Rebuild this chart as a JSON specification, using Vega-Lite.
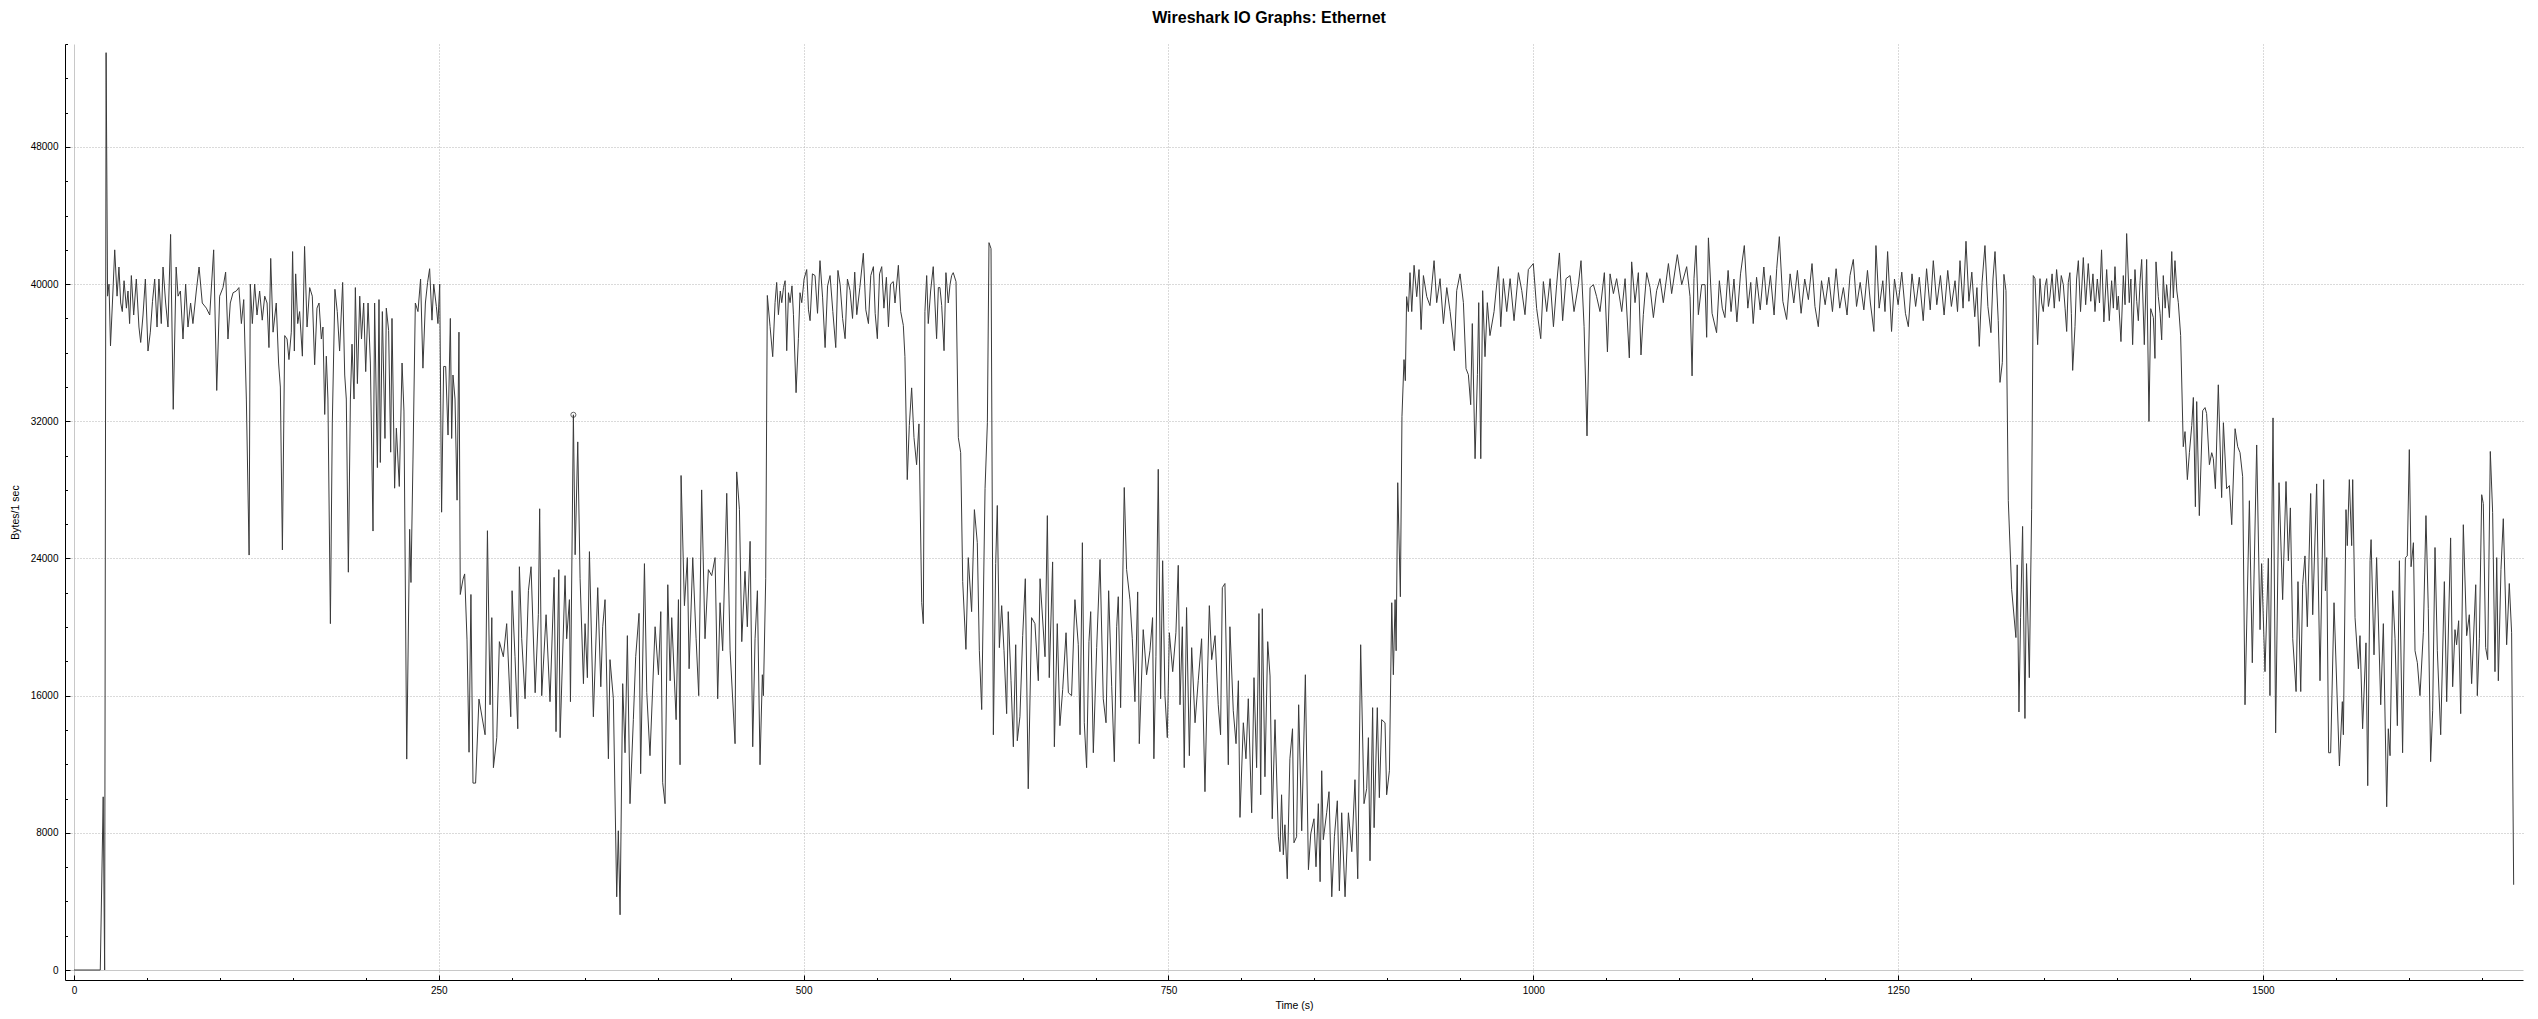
{
"$schema": "https://vega.github.io/schema/vega-lite/v6.json",
"width": 2458, "height": 936,
"autosize": {"type": "none"},
"padding": {"left": 65, "top": 44, "right": 15, "bottom": 39},
"background": "white",
"title": {"text": "Wireshark IO Graphs: Ethernet", "font": "Liberation Sans", "fontSize": 16, "fontWeight": "bold", "color": "#000000", "anchor": "middle", "frame": "group", "dx": -25, "offset": 18},
"config": {"view": {"stroke": null}, "axis": {"labelFont": "Liberation Sans", "titleFont": "Liberation Sans", "labelColor": "#000000", "titleColor": "#000000", "titleFontWeight": "normal", "domainColor": "#000000", "tickColor": "#000000", "labelFontSize": 10, "titleFontSize": 10.5, "tickWidth": 1, "domainWidth": 1}},
"datasets": {
"tracer": [{"t": 342.2, "v": 32380}],
"io": [
{"t":0,"v":0},{"t":18,"v":0},{"t":20,"v":10100},{"t":21,"v":0},{"t":22,"v":53500},{"t":23,"v":39300},{"t":24,"v":40000},{"t":25,"v":36400},{"t":26.7,"v":39600},{"t":27.9,"v":42000},{"t":29.5,"v":39300},{"t":30.8,"v":41000},{"t":32,"v":38900},{"t":33.1,"v":38400},{"t":34.3,"v":40200},{"t":35.9,"v":38600},{"t":37,"v":39600},{"t":38.1,"v":37700},{"t":39.3,"v":40500},{"t":40.9,"v":38200},{"t":42.7,"v":40300},{"t":44.5,"v":37500},{"t":45.7,"v":36600},{"t":47.3,"v":38200},{"t":48.9,"v":40300},{"t":50.7,"v":36100},{"t":52.3,"v":37200},{"t":53.8,"v":39000},{"t":55.3,"v":40300},{"t":56.9,"v":37500},{"t":58.2,"v":40300},{"t":59.8,"v":37700},{"t":61,"v":41000},{"t":62.8,"v":38900},{"t":64.4,"v":37500},{"t":66.2,"v":42900},{"t":68,"v":32700},{"t":70,"v":41000},{"t":71.3,"v":39300},{"t":72.9,"v":39600},{"t":74.7,"v":36800},{"t":76.5,"v":40000},{"t":78.1,"v":37500},{"t":79.9,"v":38900},{"t":81.5,"v":37700},{"t":83.8,"v":39600},{"t":85.7,"v":41000},{"t":87.9,"v":38900},{"t":90.7,"v":38600},{"t":93,"v":38200},{"t":95.7,"v":42000},{"t":97.8,"v":33800},{"t":99.8,"v":39300},{"t":102.1,"v":39800},{"t":103.9,"v":40700},{"t":105.5,"v":36800},{"t":107.1,"v":38900},{"t":109,"v":39500},{"t":111.2,"v":39600},{"t":113,"v":39800},{"t":114.7,"v":37700},{"t":116.3,"v":39100},{"t":118.1,"v":33300},{"t":120,"v":24200},{"t":120.8,"v":40000},{"t":122.2,"v":37700},{"t":123.8,"v":40000},{"t":125.4,"v":38200},{"t":127.2,"v":39600},{"t":129,"v":37900},{"t":130.7,"v":39300},{"t":132.3,"v":38900},{"t":133.6,"v":36300},{"t":134.8,"v":41500},{"t":136.4,"v":37200},{"t":138.6,"v":38900},{"t":140.2,"v":35400},{"t":141.4,"v":34000},{"t":142.8,"v":24500},{"t":144.4,"v":37000},{"t":146,"v":36800},{"t":147.3,"v":35600},{"t":148.9,"v":37200},{"t":149.8,"v":41900},{"t":151,"v":36100},{"t":151.9,"v":40600},{"t":153.3,"v":37700},{"t":154.6,"v":38400},{"t":156.5,"v":35800},{"t":158,"v":42200},{"t":159.7,"v":37500},{"t":161.5,"v":39800},{"t":163.3,"v":39300},{"t":164.9,"v":35300},{"t":166.5,"v":38600},{"t":167.9,"v":38900},{"t":169.5,"v":36800},{"t":170.6,"v":37500},{"t":171.8,"v":32400},{"t":172.9,"v":35800},{"t":174,"v":33300},{"t":175.7,"v":20200},{"t":177,"v":31900},{"t":178.8,"v":39700},{"t":180.4,"v":38400},{"t":182,"v":36100},{"t":184.1,"v":40100},{"t":185.5,"v":34700},{"t":186.6,"v":33300},{"t":188,"v":23200},{"t":189.4,"v":33300},{"t":190.5,"v":36500},{"t":191.9,"v":33300},{"t":192.8,"v":39800},{"t":194.2,"v":34200},{"t":195.8,"v":39300},{"t":197,"v":36800},{"t":198.5,"v":38900},{"t":199.9,"v":34900},{"t":201.5,"v":38900},{"t":203.1,"v":35400},{"t":204.9,"v":25600},{"t":206,"v":38900},{"t":207.9,"v":29300},{"t":209,"v":39100},{"t":209.9,"v":29600},{"t":211.3,"v":38400},{"t":213.1,"v":31000},{"t":214,"v":38600},{"t":215.6,"v":37300},{"t":217,"v":30200},{"t":217.9,"v":38000},{"t":219.7,"v":28100},{"t":220.9,"v":31600},{"t":222.9,"v":28200},{"t":224.8,"v":35400},{"t":226.1,"v":32600},{"t":228,"v":12300},{"t":230,"v":25700},{"t":230.9,"v":22600},{"t":232.3,"v":29800},{"t":233.9,"v":38900},{"t":235.7,"v":38400},{"t":237.5,"v":40300},{"t":239.1,"v":35100},{"t":240.8,"v":38900},{"t":242.3,"v":40100},{"t":243.7,"v":40900},{"t":245.3,"v":37900},{"t":246.5,"v":40000},{"t":248.3,"v":38700},{"t":249.4,"v":37700},{"t":250.6,"v":40000},{"t":251.9,"v":26700},{"t":253.3,"v":35200},{"t":254.7,"v":35200},{"t":256.3,"v":31200},{"t":257.9,"v":38000},{"t":258.8,"v":31000},{"t":259.7,"v":34700},{"t":261.1,"v":33300},{"t":262.5,"v":27400},{"t":263.8,"v":37200},{"t":264.7,"v":21900},{"t":266.6,"v":22800},{"t":267.7,"v":23100},{"t":269.3,"v":19300},{"t":270.7,"v":12700},{"t":272,"v":21900},{"t":273.4,"v":10900},{"t":275.2,"v":10900},{"t":277.5,"v":15800},
{"t":281.7,"v":13720},{"t":283.3,"v":25620},{"t":285.1,"v":15470},{"t":286.3,"v":20550},{"t":287.4,"v":11800},{"t":289.7,"v":13550},{"t":291.5,"v":19150},{"t":294.2,"v":18270},{"t":296.5,"v":20200},{"t":299.3,"v":14770},{"t":300.2,"v":22120},{"t":302.2,"v":18270},{"t":304.1,"v":14070},{"t":305.2,"v":23520},{"t":306.8,"v":19320},{"t":309.1,"v":15820},{"t":311.4,"v":22120},{"t":313.2,"v":23520},{"t":316,"v":16170},{"t":318.2,"v":20720},{"t":319.1,"v":26900},{"t":320.5,"v":16000},{"t":323.5,"v":20720},{"t":326.2,"v":15650},{"t":329,"v":22900},{"t":330.3,"v":13900},{"t":332.2,"v":23350},{"t":333.1,"v":13550},{"t":336.5,"v":23000},{"t":337.6,"v":19320},{"t":339.5,"v":21600},{"t":340.2,"v":15650},{"t":342.2,"v":32380},{"t":343.4,"v":24220},{"t":345.2,"v":30800},{"t":346.8,"v":22820},{"t":349.1,"v":16700},{"t":350.2,"v":20200},{"t":351.8,"v":17050},{"t":353.2,"v":24400},{"t":355.9,"v":14770},{"t":358.9,"v":22300},{"t":361,"v":16520},{"t":362.3,"v":20020},{"t":363.9,"v":21600},{"t":366.2,"v":12320},{"t":367.3,"v":18100},{"t":369.6,"v":15820},{"t":371.9,"v":4270},{"t":373,"v":8120},{"t":374.2,"v":3220},{"t":376,"v":16700},{"t":377.6,"v":12670},{"t":379.2,"v":19500},{"t":381,"v":9700},{"t":383.3,"v":14600},{"t":384.9,"v":18270},{"t":387.2,"v":20800},{"t":388.3,"v":11450},{"t":390.9,"v":23700},{"t":392.5,"v":16170},{"t":394.7,"v":12500},{"t":398.2,"v":20020},{"t":400.5,"v":17220},{"t":402.1,"v":20900},{"t":403.4,"v":10920},{"t":405,"v":9700},{"t":406.9,"v":22470},{"t":408.5,"v":16870},{"t":409.6,"v":20550},{"t":412.6,"v":14600},{"t":414.2,"v":21600},{"t":415.3,"v":11970},{"t":416,"v":28840},{"t":418.3,"v":21250},{"t":420.3,"v":24050},{"t":421.5,"v":17570},{"t":424,"v":24050},{"t":426.3,"v":19320},{"t":428.1,"v":16000},{"t":430.1,"v":28000},{"t":432.4,"v":19320},{"t":434.7,"v":23350},{"t":437,"v":23000},{"t":439.3,"v":24050},{"t":441.1,"v":15820},{"t":442.7,"v":21420},{"t":444.5,"v":18620},{"t":447.3,"v":27800},{"t":449.6,"v":18620},{"t":453,"v":13200},{"t":454.1,"v":29050},{"t":456,"v":26850},{"t":457.6,"v":19150},{"t":459.8,"v":23250},{"t":461.4,"v":20020},{"t":463.3,"v":25000},{"t":465.1,"v":13020},{"t":466.7,"v":19320},{"t":468.3,"v":22120},{"t":470.1,"v":11970},{"t":471.7,"v":17220},{"t":472.4,"v":16000},{"t":474,"v":22820},
{"t":475.1,"v":39340},{"t":477,"v":37520},{"t":478.8,"v":35770},{"t":480.4,"v":38920},{"t":481.5,"v":40100},{"t":482.7,"v":38220},{"t":484,"v":39600},{"t":485,"v":38920},{"t":486.2,"v":39800},{"t":487.3,"v":40200},{"t":488.4,"v":36120},{"t":489.6,"v":39500},{"t":490.7,"v":38920},{"t":492,"v":39900},{"t":493,"v":38220},{"t":494.8,"v":33670},{"t":496.4,"v":36820},{"t":497.5,"v":39500},{"t":498.7,"v":38920},{"t":500.3,"v":40300},{"t":502.1,"v":40850},{"t":503.3,"v":38500},{"t":504.4,"v":37870},{"t":506,"v":40600},{"t":507.8,"v":40500},{"t":509.5,"v":38300},{"t":511.2,"v":41370},{"t":513,"v":39200},{"t":514.7,"v":36300},{"t":516.4,"v":39900},{"t":518.1,"v":40500},{"t":520,"v":38400},{"t":522,"v":36300},{"t":523.5,"v":40800},{"t":525,"v":39970},{"t":526.7,"v":38000},{"t":528.4,"v":36820},{"t":530,"v":40300},{"t":531.8,"v":39620},{"t":533.5,"v":38000},{"t":535,"v":40700},{"t":536.4,"v":38220},{"t":538.5,"v":39800},{"t":540.9,"v":41800},{"t":542.6,"v":38500},{"t":544.4,"v":37700},{"t":546,"v":40500},{"t":547.8,"v":41020},{"t":549,"v":38300},{"t":550.5,"v":36820},{"t":552,"v":40600},{"t":553.5,"v":41020},{"t":555,"v":38600},{"t":556.7,"v":40400},{"t":558.1,"v":37520},{"t":559.5,"v":40000},{"t":561.4,"v":40150},{"t":562.6,"v":38900},{"t":564.9,"v":41100},{"t":566.5,"v":38400},{"t":568.3,"v":37600},{"t":569.4,"v":35770},
{"t":571,"v":28600},{"t":572.4,"v":31750},{"t":574,"v":33950},{"t":575.6,"v":31050},{"t":577.4,"v":29470},{"t":579,"v":31850},{"t":580.9,"v":21420},{"t":582,"v":20200},{"t":583.1,"v":38400},{"t":584.3,"v":40500},{"t":585.4,"v":37700},{"t":587,"v":39600},{"t":588.8,"v":41020},{"t":591.1,"v":36820},{"t":592.3,"v":39800},{"t":593.4,"v":39800},{"t":594.6,"v":38750},{"t":596.2,"v":36120},{"t":597.5,"v":40670},{"t":599.1,"v":38900},{"t":600.3,"v":39970},{"t":601.4,"v":40500},{"t":602.5,"v":40670},{"t":604.4,"v":40150},{"t":606,"v":31050},{"t":607.6,"v":30170},{"t":609,"v":22650},{"t":611.2,"v":18700},{"t":612.8,"v":24050},{"t":615.1,"v":20900},{"t":617,"v":26850},{"t":619,"v":24920},{"t":620.4,"v":18620},{"t":622,"v":15190},{"t":624.3,"v":28070},{"t":625.9,"v":31920},{"t":627,"v":42420},{"t":628.4,"v":42070},{"t":630,"v":13720},{"t":631.6,"v":23700},{"t":632.7,"v":27090},{"t":634.1,"v":18800},{"t":635.7,"v":21250},{"t":637.3,"v":18620},{"t":639.1,"v":14950},{"t":640.2,"v":20900},{"t":642.1,"v":16870},{"t":643.7,"v":13020},{"t":645.3,"v":18970},{"t":646.4,"v":13370},{"t":648.2,"v":14770},{"t":650.1,"v":19500},{"t":651.9,"v":22820},{"t":653.9,"v":10570},{"t":656.2,"v":20550},{"t":658.5,"v":20200},{"t":660.8,"v":16870},{"t":662,"v":22820},{"t":665.4,"v":18270},{"t":667,"v":26500},{"t":668.3,"v":17050},{"t":670.6,"v":23800},{"t":671.8,"v":13020},{"t":673.8,"v":20200},{"t":675.6,"v":14250},{"t":677.5,"v":16350},{"t":679.8,"v":19670},{"t":681.4,"v":16170},{"t":683.6,"v":16000},{"t":685.9,"v":21600},{"t":688.2,"v":18970},{"t":689.4,"v":13720},{"t":691,"v":24920},{"t":692.3,"v":14420},{"t":693.9,"v":11800},{"t":695.5,"v":19150},{"t":696.7,"v":20900},{"t":698.5,"v":12670},{"t":700.8,"v":18800},{"t":703.1,"v":23940},{"t":705.3,"v":15820},{"t":707.2,"v":14420},{"t":709,"v":22120},{"t":711.1,"v":16520},{"t":712.9,"v":12150},{"t":714.5,"v":20020},{"t":715.6,"v":21770},{"t":717.2,"v":15300},{"t":719.7,"v":28140},{"t":721.3,"v":23350},{"t":723.6,"v":21600},{"t":725.2,"v":19320},{"t":727,"v":15650},{"t":728.9,"v":22050},{"t":730,"v":13200},{"t":732.7,"v":19850},{"t":735,"v":17220},{"t":737.3,"v":18620},{"t":739.1,"v":20550},{"t":740,"v":12320},{"t":741.4,"v":18270},{"t":743,"v":29200},{"t":744.6,"v":15820},{"t":746,"v":23870},{"t":747.6,"v":16000},{"t":749.2,"v":13550},{"t":750.6,"v":19670},{"t":752.9,"v":17400},{"t":755.1,"v":19670},{"t":756.7,"v":23600},{"t":757.9,"v":15470},{"t":759.5,"v":20020},{"t":760.8,"v":11800},{"t":762.4,"v":21140},{"t":764.3,"v":12500},{"t":765.9,"v":18800},{"t":768.2,"v":14420},{"t":770.4,"v":16870},{"t":772.7,"v":19320},{"t":775,"v":10400},{"t":776.6,"v":16700},{"t":778,"v":21250},{"t":779.6,"v":18100},{"t":781.9,"v":19500},{"t":784.1,"v":15470},{"t":785.7,"v":13720},{"t":786.9,"v":22300},{"t":788.7,"v":22540},{"t":791,"v":11970},{"t":792.1,"v":20020},{"t":794.4,"v":15120},{"t":796.3,"v":13200},{"t":797.9,"v":16870},{"t":799,"v":8900},{"t":801.3,"v":14420},{"t":803.1,"v":12320},{"t":804.7,"v":15820},{"t":807,"v":9170},{"t":808.6,"v":17050},{"t":810.4,"v":11800},{"t":812,"v":20790},{"t":813.2,"v":10220},{"t":814.3,"v":21070},{"t":816.1,"v":11270},{"t":818,"v":19150},{"t":819.6,"v":17150},{"t":821.1,"v":8820},{"t":823,"v":14600},{"t":825.3,"v":7770},{"t":826.4,"v":6900},{"t":827.5,"v":10220},{"t":828.7,"v":6720},{"t":829.8,"v":8470},{"t":831.4,"v":5320},{"t":833.2,"v":12320},{"t":835,"v":14070},{"t":836,"v":7420},{"t":837.8,"v":7770},{"t":839.2,"v":15470},
{"t":841.3,"v":8120},{"t":843.8,"v":17220},{"t":845.9,"v":5850},{"t":847.5,"v":7950},{"t":849.7,"v":8820},{"t":851.1,"v":6020},{"t":852.7,"v":9700},{"t":853.9,"v":5150},{"t":855,"v":11620},{"t":856.1,"v":7600},{"t":858.4,"v":9170},{"t":860,"v":10400},{"t":861.9,"v":4270},{"t":863.7,"v":7770},{"t":865.7,"v":9870},{"t":867.1,"v":4620},{"t":868.7,"v":9170},{"t":871,"v":4270},{"t":873.3,"v":9170},{"t":875.6,"v":6900},{"t":877.8,"v":11100},{"t":879.7,"v":5320},{"t":881.7,"v":18970},{"t":884,"v":9700},{"t":885.8,"v":10570},{"t":887,"v":13550},{"t":888.1,"v":6370},{"t":889.9,"v":15300},{"t":890.9,"v":8300},{"t":893.1,"v":15300},{"t":894.5,"v":10050},{"t":896.1,"v":14600},{"t":898.4,"v":14420},{"t":899.5,"v":10220},{"t":901.4,"v":11620},{"t":903,"v":21420},{"t":904.1,"v":17220},{"t":905.3,"v":21600},{"t":906,"v":18620},{"t":907.1,"v":28420},{"t":908.9,"v":21770},{"t":910,"v":32270},{"t":911.4,"v":35600},{"t":912.3,"v":34370},{"t":913.2,"v":39270},{"t":914.4,"v":38400},{"t":915.5,"v":40670},{"t":916.7,"v":38400},{"t":918.3,"v":41100},{"t":920.1,"v":39270},{"t":921.7,"v":40850},{"t":923.1,"v":37350},{"t":924.7,"v":40500},{"t":927,"v":39270},{"t":929.2,"v":38750},{"t":932,"v":41370},{"t":933.8,"v":38920},{"t":936.1,"v":40320},{"t":938.4,"v":37700},{"t":940.7,"v":39800},{"t":943,"v":38400},{"t":945.9,"v":36120},{"t":947.5,"v":39620},{"t":949.8,"v":40600},{"t":952.1,"v":38920},{"t":953.9,"v":35070},{"t":955.5,"v":34720},{"t":957.1,"v":32970},{"t":958.2,"v":37700},{"t":960.1,"v":29820},{"t":961.7,"v":34720},{"t":962.6,"v":38920},{"t":964,"v":29820},{"t":965.3,"v":39620},{"t":966.9,"v":35770},{"t":968.5,"v":38920},{"t":970.3,"v":37000},{"t":973.1,"v":38400},{"t":976.1,"v":41020},{"t":977.7,"v":37520},{"t":979.5,"v":40320},{"t":981.8,"v":38400},{"t":984.1,"v":40320},{"t":986.8,"v":37870},{"t":989.8,"v":40670},{"t":992.1,"v":39620},{"t":994.3,"v":38220},{"t":996.6,"v":40850},{"t":1000,"v":41200},{"t":1002.3,"v":38570},{"t":1005.1,"v":36820},{"t":1006.9,"v":40150},{"t":1009.2,"v":38400},{"t":1011.5,"v":40320},{"t":1013.8,"v":37520},{"t":1016,"v":39970},{"t":1017.9,"v":41820},{"t":1020.1,"v":37870},{"t":1022.4,"v":40320},{"t":1025.2,"v":40500},{"t":1027.9,"v":38400},{"t":1030.9,"v":39970},{"t":1032.7,"v":41370},{"t":1034.8,"v":37520},{"t":1036.8,"v":31150},{"t":1038.9,"v":39800},{"t":1041.2,"v":39970},{"t":1043.4,"v":39270},{"t":1045.7,"v":38400},{"t":1048.7,"v":40670},{"t":1050.8,"v":36050},{"t":1052.6,"v":40600},{"t":1054.9,"v":39450},{"t":1057.1,"v":40320},{"t":1060.6,"v":38400},{"t":1062.9,"v":40320},{"t":1065.8,"v":35700},{"t":1067.4,"v":41300},{"t":1069.7,"v":38920},{"t":1072,"v":40670},{"t":1073.8,"v":35870},{"t":1075.4,"v":38220},{"t":1077.7,"v":40670},{"t":1080,"v":39800},{"t":1082.3,"v":38050},{"t":1084.5,"v":39620},{"t":1086.8,"v":40320},{"t":1089.1,"v":38920},{"t":1092.6,"v":41200},{"t":1094.8,"v":39450},{"t":1098.7,"v":41720},{"t":1101.7,"v":39970},{"t":1105.1,"v":41020},{"t":1107.4,"v":39270},{"t":1108.8,"v":34650},{"t":1110.1,"v":40320},{"t":1111.5,"v":42250},{"t":1113.1,"v":38220},{"t":1115.4,"v":39970},{"t":1117.7,"v":39970},{"t":1118.8,"v":36900},{"t":1120,"v":42700},
{"t":1122.5,"v":38300},{"t":1125.6,"v":37170},{"t":1127.5,"v":40200},{"t":1129.5,"v":38600},{"t":1131.3,"v":38050},{"t":1133.5,"v":40800},{"t":1135.5,"v":38400},{"t":1137.5,"v":40300},{"t":1139.5,"v":37800},{"t":1142,"v":40600},{"t":1144.6,"v":42250},{"t":1147,"v":38600},{"t":1149,"v":40100},{"t":1150.7,"v":37700},{"t":1153,"v":40400},{"t":1155.5,"v":38500},{"t":1158,"v":41000},{"t":1160,"v":38800},{"t":1162.5,"v":40500},{"t":1165,"v":38200},{"t":1166.8,"v":40900},{"t":1168.6,"v":42770},{"t":1171,"v":39000},{"t":1173.6,"v":37940},{"t":1176,"v":40600},{"t":1178.5,"v":38900},{"t":1181,"v":40800},{"t":1183.5,"v":38300},{"t":1186,"v":40300},{"t":1188.5,"v":39100},{"t":1191,"v":41200},{"t":1193,"v":38700},{"t":1195.3,"v":37520},{"t":1197.5,"v":40200},{"t":1200,"v":38800},{"t":1202.5,"v":40400},{"t":1205,"v":38400},{"t":1207.5,"v":40900},{"t":1210,"v":38600},{"t":1212.5,"v":39800},{"t":1215,"v":38200},{"t":1217,"v":40500},{"t":1219.3,"v":41440},{"t":1221.5,"v":38700},{"t":1224,"v":40100},{"t":1226.5,"v":38500},{"t":1229,"v":40800},{"t":1231,"v":38900},{"t":1233.4,"v":37240},{"t":1234.8,"v":42250},{"t":1237,"v":38600},{"t":1239.5,"v":40200},{"t":1241,"v":38400},{"t":1242.8,"v":41900},{"t":1245.5,"v":37240},{"t":1247.5,"v":40300},{"t":1250,"v":38800},{"t":1252.5,"v":40700},{"t":1255,"v":38300},{"t":1257,"v":37520},{"t":1259.5,"v":40600},{"t":1262,"v":38700},{"t":1264.5,"v":40400},{"t":1267.2,"v":37870},{"t":1269.5,"v":40900},{"t":1272,"v":38500},{"t":1274.1,"v":41370},{"t":1276.5,"v":38800},{"t":1279,"v":40500},{"t":1281.5,"v":38200},{"t":1284,"v":40800},{"t":1286.5,"v":38700},{"t":1289,"v":40200},{"t":1290.7,"v":38400},{"t":1292.4,"v":41370},{"t":1294.5,"v":38600},{"t":1296.5,"v":42500},{"t":1298.5,"v":39000},{"t":1300.5,"v":40700},{"t":1302.5,"v":38100},{"t":1304,"v":39800},{"t":1305.6,"v":36370},{"t":1307.5,"v":40100},{"t":1309.5,"v":42250},{"t":1311.5,"v":38700},{"t":1313.6,"v":37170},{"t":1315,"v":40300},{"t":1316.4,"v":41900},{"t":1318.6,"v":37870},{"t":1319.8,"v":34270},{"t":1321.4,"v":35420},{"t":1322.5,"v":40570},{"t":1323.9,"v":39620},{"t":1325.5,"v":27370},{"t":1327.8,"v":22190},{"t":1330.7,"v":19390},{"t":1331.6,"v":23630},{"t":1332.8,"v":15050},{"t":1333.9,"v":20550},{"t":1335.3,"v":25870},{"t":1336.9,"v":14670},{"t":1338,"v":23700},{"t":1339.9,"v":17050},{"t":1341.5,"v":26850},
{"t":1342.6,"v":40500},{"t":1343.8,"v":40320},{"t":1345.6,"v":36470},{"t":1347.2,"v":40320},{"t":1348.4,"v":38900},{"t":1349.5,"v":38400},{"t":1350.7,"v":39900},{"t":1351.8,"v":40320},{"t":1353,"v":38700},{"t":1354,"v":39250},{"t":1355.5,"v":40600},{"t":1357,"v":38600},{"t":1358.6,"v":40850},{"t":1360.5,"v":39000},{"t":1361.8,"v":40500},{"t":1363.2,"v":39970},{"t":1364.4,"v":38600},{"t":1365.5,"v":37240},{"t":1366.6,"v":40100},{"t":1367.7,"v":40670},{"t":1368.7,"v":38300},{"t":1369.6,"v":34970},{"t":1371.2,"v":37520},{"t":1372.3,"v":40300},{"t":1373.5,"v":41370},{"t":1375,"v":38400},{"t":1376.9,"v":41550},{"t":1378.5,"v":38800},{"t":1380.3,"v":41200},{"t":1382,"v":39000},{"t":1383.5,"v":40600},{"t":1384.9,"v":38400},{"t":1386.5,"v":40300},{"t":1388,"v":38900},{"t":1389.4,"v":42000},{"t":1391,"v":37800},{"t":1392.9,"v":40850},{"t":1394.7,"v":37870},{"t":1396.3,"v":40200},{"t":1397.5,"v":38600},{"t":1398.6,"v":41020},{"t":1400,"v":38500},{"t":1400.9,"v":39300},{"t":1402.7,"v":36650},{"t":1404.3,"v":40500},{"t":1405.5,"v":38800},{"t":1406.6,"v":42950},{"t":1408.4,"v":38920},{"t":1409.5,"v":40300},{"t":1410.7,"v":36470},{"t":1412.3,"v":40850},{"t":1413.5,"v":39000},{"t":1414.6,"v":37870},{"t":1415.8,"v":40200},{"t":1416.9,"v":41440},{"t":1418.7,"v":36470},{"t":1420.3,"v":41440},{"t":1421.9,"v":31990},{"t":1423.1,"v":38570},{"t":1424.9,"v":38050},{"t":1426,"v":35670},{"t":1426.7,"v":41300},{"t":1428.3,"v":39270},{"t":1429.5,"v":38300},{"t":1430.6,"v":36750},{"t":1431.7,"v":40500},{"t":1433,"v":38600},{"t":1434,"v":39970},{"t":1435.9,"v":38050},{"t":1437.5,"v":41900},{"t":1438.6,"v":39200},{"t":1439.7,"v":41370},{"t":1441,"v":39600},{"t":1442,"v":38920},{"t":1443.6,"v":37000},{"t":1445.4,"v":30520},
{"t":1446.6,"v":31400},{"t":1448.2,"v":28600},{"t":1449.6,"v":30170},{"t":1451.2,"v":31750},{"t":1452.3,"v":33390},{"t":1453.7,"v":27020},{"t":1454.6,"v":33150},{"t":1456.4,"v":26500},{"t":1458.7,"v":32620},{"t":1460.3,"v":32800},{"t":1461.4,"v":32450},{"t":1463.3,"v":29470},{"t":1464.9,"v":30170},{"t":1466,"v":29820},{"t":1467.4,"v":28070},{"t":1469.4,"v":34130},{"t":1471.7,"v":27550},{"t":1472.9,"v":31920},{"t":1475.1,"v":28070},{"t":1477,"v":28250},{"t":1478.6,"v":25970},{"t":1480.9,"v":31570},{"t":1482.7,"v":30520},{"t":1484.3,"v":30170},{"t":1486.1,"v":28770},{"t":1487.7,"v":15470},{"t":1490.7,"v":27370},{"t":1492.7,"v":17920},{"t":1495.7,"v":30620},{"t":1498,"v":19850},{"t":1499.1,"v":23700},{"t":1501.4,"v":17400},{"t":1503.7,"v":24010},{"t":1504.8,"v":16000},{"t":1506.9,"v":32200},{"t":1508.7,"v":13830},{"t":1511,"v":28420},{"t":1513.5,"v":21600},{"t":1515.8,"v":28490},{"t":1517.4,"v":23870},{"t":1518.8,"v":26950},{"t":1520.4,"v":19320},{"t":1522.7,"v":16240},{"t":1524,"v":22650},{"t":1525.9,"v":16240},{"t":1527.2,"v":22470},{"t":1528.8,"v":24150},{"t":1530.4,"v":20020},{"t":1532.7,"v":27790},{"t":1534.1,"v":20720},{"t":1536.8,"v":28350},{"t":1539.1,"v":16870},{"t":1541.6,"v":28600},{"t":1542.8,"v":22120},{"t":1543.7,"v":24050},{"t":1545,"v":12670},{"t":1546.4,"v":12670},{"t":1548.7,"v":21420},{"t":1552.4,"v":11900},{"t":1554.4,"v":15650},{"t":1555.1,"v":13720},{"t":1556.9,"v":26850},{"t":1557.8,"v":24750},{"t":1559.2,"v":28600},{"t":1560.8,"v":24750},{"t":1561.5,"v":28600},{"t":1563.1,"v":20550},{"t":1565.4,"v":17570},{"t":1566.5,"v":19500},{"t":1568.3,"v":14070},{"t":1570.6,"v":19080},{"t":1571.8,"v":10750},{"t":1573.4,"v":23870},{"t":1574.1,"v":25100},{"t":1576.1,"v":18380},{"t":1577.9,"v":24050},{"t":1580.7,"v":15470},{"t":1582.5,"v":20200},{"t":1584.8,"v":9520},{"t":1585.9,"v":14070},{"t":1587.1,"v":12500},{"t":1588.9,"v":22120},{"t":1590.5,"v":19320},{"t":1592.1,"v":14250},{"t":1593.5,"v":23870},{"t":1595.7,"v":12670},{"t":1597.6,"v":24050},{"t":1598.9,"v":24150},{"t":1600.3,"v":30350},{"t":1601.5,"v":23520},{"t":1603.1,"v":24920},{"t":1604.2,"v":18620},{"t":1605.8,"v":17920},{"t":1607.6,"v":16000},{"t":1609.9,"v":19670},{"t":1611.7,"v":26500},{"t":1613.3,"v":21070},{"t":1614.9,"v":12150},{"t":1616.3,"v":15120},{"t":1617.9,"v":24640},{"t":1619.5,"v":18620},{"t":1621.8,"v":13720},{"t":1624.3,"v":22650},{"t":1625.9,"v":15650},{"t":1628.6,"v":25200},{"t":1630,"v":16520},{"t":1631.6,"v":19850},{"t":1632.7,"v":18970},{"t":1634.1,"v":20370},{"t":1635.5,"v":14950},{"t":1637.3,"v":25970},{"t":1639.6,"v":19500},{"t":1641.4,"v":20720},{"t":1643,"v":16700},{"t":1645.8,"v":22470},{"t":1646.9,"v":16000},{"t":1648.3,"v":19320},{"t":1649.9,"v":27720},{"t":1651,"v":27200},{"t":1652.6,"v":18800},{"t":1654,"v":18100},{"t":1655.8,"v":30240},{"t":1657.4,"v":26670},{"t":1659,"v":17400},{"t":1660.2,"v":24050},{"t":1661.3,"v":16870},{"t":1663.1,"v":23350},{"t":1664.7,"v":26320},{"t":1667,"v":18970},{"t":1668.8,"v":22540},{"t":1670.4,"v":19670},{"t":1671.8,"v":4970}
]
},
"layer": [
{"data": {"name": "io"},
 "mark": {"type": "line", "color": "#3a3a3a", "strokeWidth": 1, "clip": true},
 "encoding": {
  "x": {"field": "t", "type": "quantitative", "scale": {"domain": [-6.17, 1678.2], "nice": false, "zero": false},
        "axis": {"values": [0,250,500,750,1000,1250,1500], "format": "d", "title": "Time (s)", "tickSize": -5, "labelPadding": 10, "titlePadding": 5, "labelFlush": false, "grid": true,
                 "gridColor": {"condition": {"test": "datum.value === 0", "value": "#c8c8c8"}, "value": "#b4b4b4"},
                 "gridDash": {"condition": {"test": "datum.value === 0", "value": []}, "value": [1,2]}}},
  "y": {"field": "v", "type": "quantitative", "scale": {"domain": [-583, 54006], "nice": false, "zero": false},
        "axis": {"values": [0,8000,16000,24000,32000,40000,48000], "title": "Bytes/1 sec", "tickSize": -5, "labelPadding": 12, "titlePadding": 10, "labelFlush": false, "format": "d", "grid": true,
                 "gridColor": {"condition": {"test": "datum.value === 0", "value": "#c8c8c8"}, "value": "#b4b4b4"},
                 "gridDash": {"condition": {"test": "datum.value === 0", "value": []}, "value": [1,2]}}}
 }},
{"data": {"name": "tracer"},
 "mark": {"type": "point", "shape": "circle", "size": 26, "filled": false, "color": "#222222", "strokeWidth": 1},
 "encoding": {
  "x": {"field": "t", "type": "quantitative", "axis": {"orient": "bottom", "values": [50,100,150,200,300,350,400,450,550,600,650,700,800,850,900,950,1050,1100,1150,1200,1300,1350,1400,1450,1550,1600,1650], "labels": false, "tickSize": -2.5, "domain": false, "grid": false, "title": null}},
  "y": {"field": "v", "type": "quantitative", "axis": {"orient": "left", "values": [2000,4000,6000,10000,12000,14000,18000,20000,22000,26000,28000,30000,34000,36000,38000,42000,44000,46000,50000,52000,54000], "labels": false, "tickSize": -2.5, "domain": false, "grid": false, "title": null}}
 }}
],
"resolve": {"axis": {"x": "independent", "y": "independent"}}
}
